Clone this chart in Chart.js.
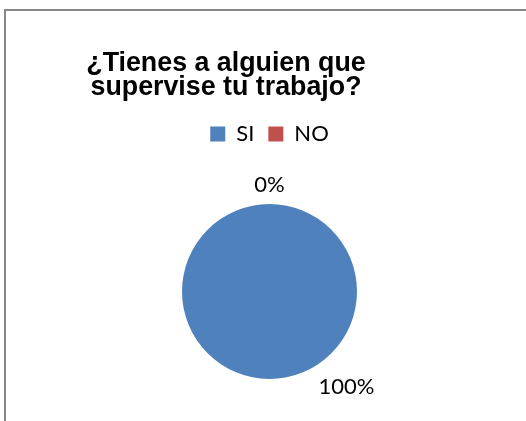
<!DOCTYPE html>
<html>
<head>
<meta charset="utf-8">
<script src="https://cdn.jsdelivr.net/npm/chart.js@4"></script>
<style>
  body { margin: 0; overflow: hidden; background: #fff; }
  #wrap { position: absolute; left: 0; top: 0; width: 526px; height: 421px; overflow: hidden; }
  #frame {
    position: absolute; left: 4px; top: 9px; width: 522px; height: 412px;
    border-top: 2px solid #878787; border-left: 2px solid #878787;
    pointer-events: none;
  }
</style>
</head>
<body>
<div id="wrap"><canvas id="pieChart" width="526" height="440"></canvas></div>
<div id="frame"></div>
<script>
const titleLines = ['¿Tienes a alguien que', 'supervise tu trabajo?'];
const categories = ['SI', 'NO'];
const values = [100, 0];
const colors = ['#4F81BD', '#C0504D'];

// titre dessiné à la main (il n'est pas centré sur le graphique)
const sheetTitle = {
  id: 'sheetTitle',
  afterDraw(chart, args, opts) {
    const ctx = chart.ctx;
    ctx.save();
    ctx.font = opts.font;
    ctx.fillStyle = opts.color;
    ctx.textAlign = 'center';
    ctx.textBaseline = 'alphabetic';
    opts.lines.forEach((line, i) => {
      ctx.fillText(line, opts.x, opts.y + i * opts.lineHeight);
    });
    ctx.restore();
  }
};

// étiquettes de pourcentage à l'extérieur des parts
const pieLabels = {
  id: 'pieLabels',
  afterDatasetsDraw(chart, args, opts) {
    const ctx = chart.ctx;
    const meta = chart.getDatasetMeta(0);
    const data = chart.data.datasets[0].data;
    const total = data.reduce((a, b) => a + b, 0);
    ctx.save();
    ctx.font = opts.font;
    ctx.fillStyle = opts.color;
    ctx.textAlign = 'center';
    ctx.textBaseline = 'middle';
    meta.data.forEach((arc, i) => {
      const p = arc.getProps(['x', 'y', 'startAngle', 'endAngle', 'outerRadius'], true);
      let angle = (p.startAngle + p.endAngle) / 2;
      if (p.endAngle - p.startAngle >= 2 * Math.PI - 1e-6) angle = opts.fullAngle * Math.PI / 180;
      const text = Math.round(data[i] / total * 100) + '%';
      const w = ctx.measureText(text).width;
      const cos = Math.cos(angle), sin = Math.sin(angle);
      const d = p.outerRadius + opts.gap + Math.abs(cos) * w / 2 + Math.abs(sin) * opts.textHeight / 2;
      ctx.fillText(text, p.x + cos * d, p.y + sin * d + opts.dy);
    });
    ctx.restore();
  }
};

const ctx = document.getElementById('pieChart').getContext('2d');
const chart = new Chart(ctx, {
  type: 'pie',
  data: {
    labels: categories,
    datasets: [{
      data: values,
      backgroundColor: colors,
      borderWidth: 0,
      radius: 87.5
    }]
  },
  options: {
    responsive: false,
    animation: false,
    layout: { padding: { top: 109, left: 13, right: 0, bottom: 12 } },
    plugins: {
      tooltip: { enabled: false },
      legend: {
        position: 'top',
        labels: {
          boxWidth: 15,
          boxHeight: 15,
          padding: 14,
          color: '#000',
          font: { family: 'Lato', size: 22 }
        }
      },
      sheetTitle: {
        lines: titleLines,
        font: 'bold 26.8px "Liberation Sans", Arial, sans-serif',
        color: '#000',
        x: 226,
        y: 71,
        lineHeight: 24
      },
      pieLabels: {
        font: '22px Lato, sans-serif',
        color: '#000',
        gap: 11,
        textHeight: 16,
        fullAngle: 51,
        dy: 0
      }
    }
  },
  plugins: [sheetTitle, pieLabels]
});
</script>
</body>
</html>
